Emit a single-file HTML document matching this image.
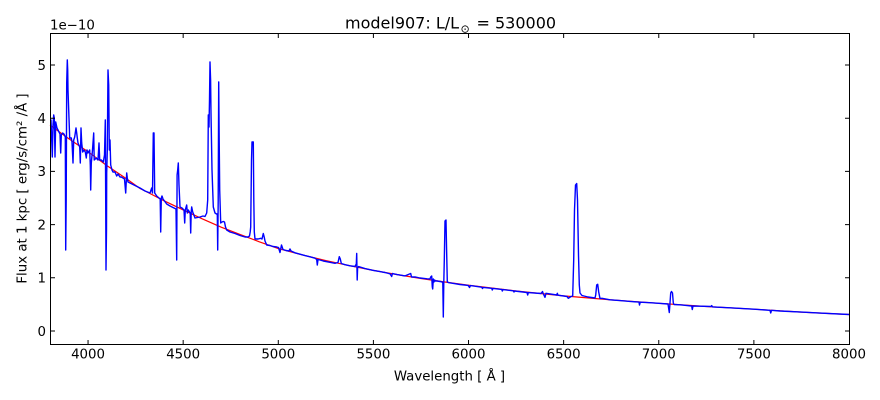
<!DOCTYPE html>
<html><head><meta charset="utf-8"><style>
html,body{margin:0;padding:0;background:#fff;}
svg{display:block;}
text{font-family:"DejaVu Sans","Liberation Sans",sans-serif;fill:#000;}
</style></head><body>
<svg width="880" height="400" viewBox="0 0 880 400" xmlns="http://www.w3.org/2000/svg">
<rect x="0" y="0" width="880" height="400" fill="#fff"/>
<!-- continuum -->
<polyline fill="none" stroke="#ff0000" stroke-width="1.2" stroke-linejoin="round" points="50,125.1 69,138.9 88,151.7 107.1,165.8 126.1,178.5 140,188.5 145.1,191 164.1,200.8 183.2,209.9 202.2,218.8 221.2,227.2 240.3,234.6 259.3,241.8 278.3,248.5 302,254.8 325.8,260.6 349.6,265.7 373.4,270.4 397.2,274.6 421,278.5 444.8,282 468.6,285.2 516.1,291 563.7,295.9 611.3,299.9 658.8,303.3 706.4,306.5 754,309.2 801.5,312.1 849,314.5"/>
<!-- spectrum -->
<polyline fill="none" stroke="#0000ff" stroke-width="1.4" stroke-linejoin="round" points="50,120 51,120 52.3,157 53,125 53.7,115 54.3,118 55,157 55.7,122 57,128 58,130 59,132 60,134 60.7,153 61.3,135 62.7,133 64,134 65.3,137 65.7,250 66.2,200 66.7,83 67.3,60 67.7,70 68,90 68.7,110 69.7,138 71.3,138 72,142 73,163 73.7,140 74.7,137 76,128 76.7,133 77.3,138 78,143 79.7,147 80.3,163 81,128 81.7,143 82.7,152 84,150 85.3,152 86.3,158 87,150 88,153 89.7,150 90.3,165 90.7,190 91.3,163 92.5,150 93.7,133 94.2,160 96.3,158 98,160 99,143 99.7,160 101.3,160 103.3,162 104.5,155 105.3,120 105.7,200 106,270 106.5,230 106.7,173 107.3,150 108,70 108.7,85 109.3,150 110,140 110.7,165 112,170 113,172 115,172 116.7,176 118,174 120,177 121.3,177 123,178 124.5,179 125.7,193 126.7,173 127.3,178 128,182 130,183 135,185.5 140,188 145,191 150,193 151.7,188 152.5,193 153.3,133 154,133 154.7,193 156.7,196 159,198 160.2,199 160.7,232 161.3,198 162,196 163,199 166.7,204 170,206 172,207 174,208 176,209 176.7,260 177.1,175 177.7,170 178.3,163 179,185 180,207 182,208 184,210 184.7,223 185.3,210 186.7,205 187.3,213 188.3,210 189.5,212 190.2,213 190.7,233 191.2,212 191.7,207 192.7,212 193.5,214 195,218 200,217 203,216 205,216.5 206.7,213 207.7,200 208.3,115 209,127 209.5,100 210,62 210.6,80 211,113 212,170 213.3,207 215,213 216.5,214 217.3,214 217.7,250 218.2,200 218.7,82 219.2,140 219.7,190 220.7,223 222,222 223.3,221.5 224.5,222 225.5,227 226.7,230 230,232 235,233.5 240,235.5 245,237 248,237 249.5,236 250.2,232 250.7,227 251.5,160 252,142 253.3,142 253.8,200 254.3,232 255,239 258,239 260.7,238.3 262,239 263.3,233.5 264.2,237 265,241 266.7,245 270,245.5 273,246.5 276.7,247 278.5,247.5 280,252.5 281.5,245 283,249.5 286,250.5 289,251 290,249 291,251 295,252.8 300,254.2 305,255.6 310,256.8 315,258.2 316.7,259.5 317.3,265 318,259.5 320,260 323.3,261 326,261.5 330,262.3 335,263.3 338,262.5 339.3,256.7 340.3,259 341.3,263.5 345,264.7 350,265.8 355,266.5 356.3,264 356.7,253.5 357,270 357.2,280 357.6,268 358.5,266.6 365,268.6 373.4,270.4 380,271.6 385,272.5 390,273.8 391.7,276.5 392.4,273.5 397.2,274.6 405,275.9 410.7,273.5 411.5,277 415,276.9 420,278 427,278.8 430,279 430.7,277 431.7,276 432.3,287 432.7,289 433.3,279 434,282 434.7,280 435.3,281 437,281 440,281.5 442,281.8 442.8,283 443.3,317 443.8,282 444.3,260 445,221 446,220 446.6,250 447.3,282 449,282.7 455,283.7 460,284.5 467,285.3 468.3,285.5 469.5,287.5 470.5,285.6 481.7,287.2 482.5,288.5 483.3,287.4 491.7,288.3 492.3,290 493,288.4 501.7,289.4 502.3,291 503,289.6 513.3,290.8 514,292 514.7,291 527,292.5 527.7,295 528.3,292.6 541,293.5 542.5,291.5 543.3,293.8 545,297.3 546,293.3 556.7,295 557.3,293.3 558,295.2 567,296.5 568.3,298.3 569.5,297.5 571,296.5 572.7,296 573.7,260 574.5,210 575.5,185 576.7,183.5 577.5,200 578.5,255 579.3,285 580,293 582,295.5 588,297 595,298 595.7,295 596.7,285 597.7,284.3 598.7,292 600,298.5 602,298.3 610,299.8 620,300.6 630,301.4 639,302.1 639.5,305 640.2,302.2 650,302.7 658.8,303.3 668,304 669.3,312.5 670,303 670.7,293 671.5,291.5 672.5,293 673.3,303 674,304.5 680,304.8 685,305.3 691.7,306 692.3,309.5 693,306 700,306.2 711,306.5 711.7,305.6 712.5,306.9 730,307.8 754,309.2 770,310.3 770.7,313 771.5,310.3 780,311 801.5,312.1 820,313.1 849,314.5"/>
<!-- axes frame -->
<rect x="50.5" y="33.5" width="799" height="311" fill="none" stroke="#000" stroke-width="1"/>
<!-- ticks -->
<g stroke="#000" stroke-width="1">
<path d="M88.05,344 V340 M183.17,344 V340 M278.29,344 V340 M373.4,344 V340 M468.52,344 V340 M563.64,344 V340 M658.76,344 V340 M753.88,344 V340"/>
<path d="M88.05,34 V38 M183.17,34 V38 M278.29,34 V38 M373.4,34 V38 M468.52,34 V38 M563.64,34 V38 M658.76,34 V38 M753.88,34 V38"/>
<path d="M51,331 H55 M51,277.8 H55 M51,224.6 H55 M51,171.4 H55 M51,118.2 H55 M51,65 H55"/>
<path d="M849,331 H845 M849,277.8 H845 M849,224.6 H845 M849,171.4 H845 M849,118.2 H845 M849,65 H845"/>
</g>
<!-- x tick labels -->
<g font-size="13.33" text-anchor="middle">
<text x="88.05" y="358.3">4000</text>
<text x="183.17" y="358.3">4500</text>
<text x="278.29" y="358.3">5000</text>
<text x="373.4" y="358.3">5500</text>
<text x="468.52" y="358.3">6000</text>
<text x="563.64" y="358.3">6500</text>
<text x="658.76" y="358.3">7000</text>
<text x="753.88" y="358.3">7500</text>
<text x="849" y="358.3">8000</text>
</g>
<!-- y tick labels -->
<g font-size="13.33" text-anchor="end">
<text x="46" y="335.8">0</text>
<text x="46" y="282.6">1</text>
<text x="46" y="229.4">2</text>
<text x="46" y="176.2">3</text>
<text x="46" y="123">4</text>
<text x="46" y="69.8">5</text>
</g>
<text x="50" y="29.3" font-size="13.33">1e−10</text>
<!-- title -->
<text x="345" y="28.3" font-size="16">model907: L/L</text>
<text x="460.5" y="32.6" font-size="11" fill="#555">⊙</text>
<text x="476.5" y="28.3" font-size="16">= 530000</text>
<!-- axis labels -->
<text x="449.5" y="380.7" font-size="13.33" text-anchor="middle">Wavelength [ Å ]</text>
<text transform="translate(26.7,188.5) rotate(-90)" x="0" y="0" font-size="13.33" text-anchor="middle">Flux at 1 kpc [ erg/s/cm² /Å ]</text>
</svg>
</body></html>
